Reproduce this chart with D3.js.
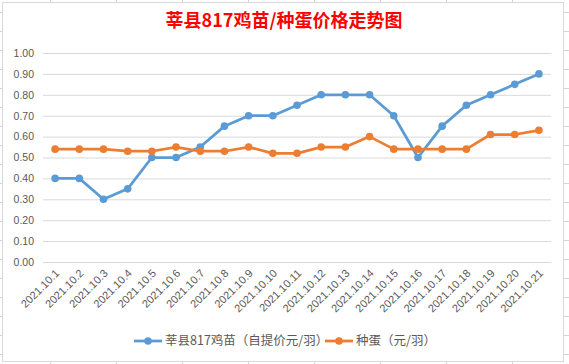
<!DOCTYPE html>
<html>
<head>
<meta charset="utf-8">
<script src="https://cdn.jsdelivr.net/npm/d3@7"></script>
<style>
  body { margin: 0; background: #fff; }
  svg { display: block; }
</style>
</head>
<body>
<div id="chart"></div>
<script>
// chart data
const dates = ["2021.10.1", "2021.10.2", "2021.10.3", "2021.10.4", "2021.10.5", "2021.10.6", "2021.10.7",
  "2021.10.8", "2021.10.9", "2021.10.10", "2021.10.11", "2021.10.12", "2021.10.13", "2021.10.14",
  "2021.10.15", "2021.10.16", "2021.10.17", "2021.10.18", "2021.10.19", "2021.10.20", "2021.10.21"];
const chickPrice = [0.40, 0.40, 0.30, 0.35, 0.50, 0.50, 0.55, 0.65, 0.70, 0.70, 0.75,
  0.80, 0.80, 0.80, 0.70, 0.50, 0.65, 0.75, 0.80, 0.85, 0.90];
const eggPrice = [0.54, 0.54, 0.54, 0.53, 0.53, 0.55, 0.53, 0.53, 0.55, 0.52, 0.52,
  0.55, 0.55, 0.60, 0.54, 0.54, 0.54, 0.54, 0.61, 0.61, 0.63];
const seriesNames = ["莘县817鸡苗（自提价元/羽）", "种蛋（元/羽）"];
const yTicks = [0, 0.1, 0.2, 0.3, 0.4, 0.5, 0.6, 0.7, 0.8, 0.9, 1.0];

const width = 569, height = 364;
const colors = ["#5B9BD5", "#ED7D31"];
const font = "'Noto Sans CJK SC', 'Noto Sans', sans-serif";

const svg = d3.select("#chart").append("svg")
  .attr("width", width)
  .attr("height", height)
  .style("font-family", font);

// spreadsheet grid peeking round the chart box
const sheet = svg.append("g").attr("stroke", "#d0d4dc").attr("stroke-width", 1);
d3.range(12, height, 19).forEach(y => {
  sheet.append("line").attr("x1", 0).attr("x2", width).attr("y1", y + 0.5).attr("y2", y + 0.5);
});
d3.range(50, width, 66).forEach(x => {
  sheet.append("line").attr("x1", x + 0.5).attr("x2", x + 0.5).attr("y1", 0).attr("y2", height);
});

// chart area
svg.append("rect")
  .attr("x", 2.5).attr("y", 2.5)
  .attr("width", 561).attr("height", 359)
  .attr("fill", "#fff")
  .attr("stroke", "#d9d9d9");

const x = d3.scaleBand().domain(dates).range([43, 551]);
const y = d3.scaleLinear().domain([0, 1]).range([262, 53]);
const cx = d => x(d) + x.bandwidth() / 2;

// title
svg.append("text")
  .attr("x", 284).attr("y", 27)
  .attr("text-anchor", "middle")
  .attr("fill", "#FF0000")
  .attr("font-size", 18)
  .attr("font-weight", "bold")
  .text("莘县817鸡苗/种蛋价格走势图");

// y axis + gridlines
const yAxis = svg.append("g")
  .attr("transform", "translate(43,0)")
  .call(d3.axisLeft(y).tickValues(yTicks).tickFormat(d3.format(".2f")).tickSize(-508).tickPadding(9));
yAxis.select(".domain").remove();
yAxis.selectAll(".tick line").attr("stroke", "#d9d9d9");
yAxis.selectAll(".tick text")
  .attr("fill", "#595959")
  .attr("font-size", 10.5)
  .attr("font-family", "'Liberation Sans', 'DejaVu Sans', sans-serif");

// x axis labels
const xAxis = svg.append("g")
  .attr("transform", "translate(0,262)")
  .call(d3.axisBottom(x).tickSize(0).tickPadding(0));
xAxis.select(".domain").remove();
xAxis.selectAll(".tick text")
  .attr("fill", "#595959")
  .attr("font-size", 11)
  .attr("font-family", "'Liberation Sans', 'DejaVu Sans', sans-serif")
  .attr("text-anchor", "end")
  .attr("dy", 0)
  .attr("transform", "translate(5,12) rotate(-45)");

// series
const series = [chickPrice, eggPrice];
const line = d3.line()
  .x((d, i) => cx(dates[i]))
  .y(d => y(d));

series.forEach((vals, si) => {
  const g = svg.append("g");
  g.append("path")
    .datum(vals)
    .attr("fill", "none")
    .attr("stroke", colors[si])
    .attr("stroke-width", 2.75)
    .attr("stroke-linejoin", "round")
    .attr("d", line);
  g.selectAll("circle")
    .data(vals)
    .join("circle")
    .attr("cx", (d, i) => cx(dates[i]))
    .attr("cy", d => y(d))
    .attr("r", 3.8)
    .attr("fill", colors[si]);
});

// legend
const legendX = [134, 325];
seriesNames.forEach((name, i) => {
  const lg = svg.append("g").attr("transform", `translate(${legendX[i]},341)`);
  lg.append("line")
    .attr("x1", 0).attr("x2", 28)
    .attr("stroke", colors[i]).attr("stroke-width", 2.75);
  lg.append("circle").attr("cx", 14).attr("r", 3.8).attr("fill", colors[i]);
  lg.append("text")
    .attr("x", 31).attr("dy", "0.35em")
    .attr("fill", "#595959")
    .attr("font-size", 12.5)
    .text(name);
});
</script>
</body>
</html>
